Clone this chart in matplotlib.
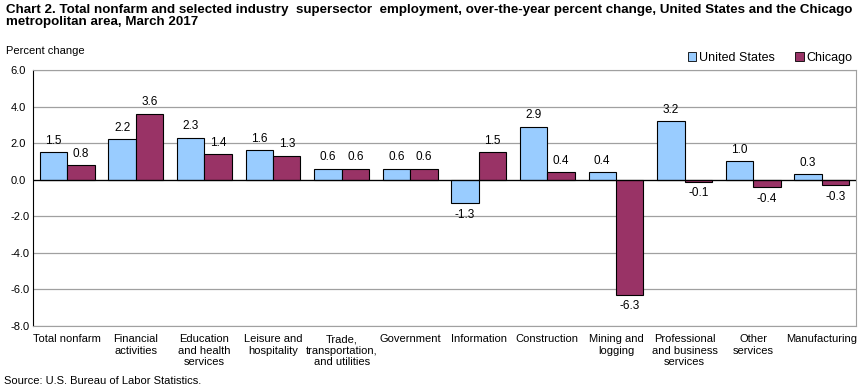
import matplotlib
matplotlib.use("Agg")
import matplotlib.pyplot as plt
import numpy as np
from matplotlib.patches import Patch

plt.rcParams['font.family'] = ['Liberation Sans', 'DejaVu Sans']

categories = ['Total nonfarm', 'Financial\nactivities', 'Education\nand health\nservices',
              'Leisure and\nhospitality', 'Trade,\ntransportation,\nand utilities', 'Government',
              'Information', 'Construction', 'Mining and\nlogging', 'Professional\nand business\nservices',
              'Other\nservices', 'Manufacturing']
us_values = [1.5, 2.2, 2.3, 1.6, 0.6, 0.6, -1.3, 2.9, 0.4, 3.2, 1.0, 0.3]
chicago_values = [0.8, 3.6, 1.4, 1.3, 0.6, 0.6, 1.5, 0.4, -6.3, -0.1, -0.4, -0.3]
yticks = [6.0, 4.0, 2.0, 0.0, -2.0, -4.0, -6.0, -8.0]

us_color = '#99ccff'
chi_color = '#993366'

fig = plt.figure(figsize=(8.68, 3.92), dpi=100)
ax = fig.add_axes([33 / 868, 1 - 326 / 392, 823 / 868, 256 / 392])

x = np.arange(len(categories))
w = 0.4
b1 = ax.bar(x - w / 2, us_values, w, color=us_color, edgecolor='black', linewidth=0.8, zorder=3)
b2 = ax.bar(x + w / 2, chicago_values, w, color=chi_color, edgecolor='black', linewidth=0.8, zorder=3)

for bars, vals in ((b1, us_values), (b2, chicago_values)):
    for bar, v in zip(bars, vals):
        cx = bar.get_x() + bar.get_width() / 2
        if v >= 0:
            ax.annotate(f'{v:.1f}', (cx, v), xytext=(0, 4), textcoords='offset points',
                        ha='center', va='bottom', fontsize=8.5)
        else:
            ax.annotate(f'{v:.1f}', (cx, v), xytext=(0, -4), textcoords='offset points',
                        ha='center', va='top', fontsize=8.5)

ax.set_xlim(-0.5, len(categories) - 0.5)
ax.set_ylim(-8, 6)
ax.set_yticks(yticks)
ax.set_yticklabels([f'{t:.1f}' for t in yticks], fontsize=8)
ax.set_xticks(x)
ax.set_xticklabels(categories, fontsize=8, linespacing=1.15, va='top')
ax.tick_params(axis='x', length=0, pad=6)
ax.tick_params(axis='y', length=0, pad=16)
ax.grid(axis='y', color='#a0a0a0', linewidth=0.9, zorder=0)
ax.axhline(0, color='black', linewidth=0.9, zorder=4)
for s in ('top', 'right', 'bottom'):
    ax.spines[s].set_color('#a0a0a0')
ax.spines['left'].set_color('black')
for lbl in ax.get_yticklabels():
    lbl.set_ha('left')

fig.text(6 / 868, 1 - 4 / 392, 'Chart 2. Total nonfarm and selected industry  supersector  employment, over-the-year percent change, United States and the Chicago\nmetropolitan area, March 2017',
         fontsize=9.6, fontweight='bold', va='top', ha='left', linespacing=1.0)
fig.text(6 / 868, 1 - 51 / 392, 'Percent change', fontsize=8, va='center', ha='left')
fig.text(4 / 868, 1 - 381 / 392, 'Source: U.S. Bureau of Labor Statistics.', fontsize=8, va='center', ha='left')

handles = [Patch(facecolor=us_color, edgecolor='black', linewidth=0.6, label='United States'),
           Patch(facecolor=chi_color, edgecolor='black', linewidth=0.6, label='Chicago')]
fig.legend(handles=handles, loc='center right', bbox_to_anchor=(852 / 868, 1 - 58 / 392), ncol=2,
           frameon=False, fontsize=9, handlelength=0.7, handleheight=0.7, handletextpad=0.2,
           columnspacing=1.6, borderaxespad=0, borderpad=0)

fig.savefig('out.png', dpi=100)
